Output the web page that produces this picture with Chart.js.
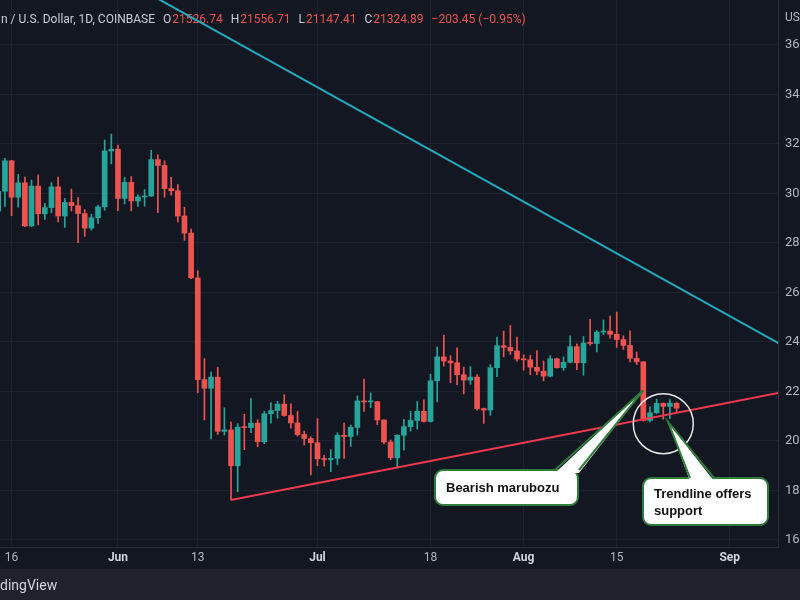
<!DOCTYPE html>
<html>
<head>
<meta charset="utf-8">
<script src="https://cdn.jsdelivr.net/npm/chart.js@4.4.1/dist/chart.umd.min.js"></script>
<style>
  html, body { margin: 0; padding: 0; background: #131722; }
  #wrap { width: 800px; height: 600px; }
</style>
</head>
<body>
<div id="wrap"><canvas id="btcChart" width="800" height="600"></canvas></div>
<script>
// BTC / USD daily candles, Coinbase, 14 May - 24 Aug 2022
const dates = [
  "2022-05-14","2022-05-15","2022-05-16","2022-05-17","2022-05-18","2022-05-19","2022-05-20","2022-05-21","2022-05-22",
  "2022-05-23","2022-05-24","2022-05-25","2022-05-26","2022-05-27","2022-05-28","2022-05-29","2022-05-30","2022-05-31",
  "2022-06-01","2022-06-02","2022-06-03","2022-06-04","2022-06-05","2022-06-06","2022-06-07","2022-06-08","2022-06-09","2022-06-10",
  "2022-06-11","2022-06-12","2022-06-13","2022-06-14","2022-06-15","2022-06-16","2022-06-17","2022-06-18","2022-06-19","2022-06-20",
  "2022-06-21","2022-06-22","2022-06-23","2022-06-24","2022-06-25","2022-06-26","2022-06-27","2022-06-28","2022-06-29","2022-06-30",
  "2022-07-01","2022-07-02","2022-07-03","2022-07-04","2022-07-05","2022-07-06","2022-07-07","2022-07-08","2022-07-09","2022-07-10",
  "2022-07-11","2022-07-12","2022-07-13","2022-07-14","2022-07-15","2022-07-16","2022-07-17","2022-07-18","2022-07-19","2022-07-20",
  "2022-07-21","2022-07-22","2022-07-23","2022-07-24","2022-07-25","2022-07-26","2022-07-27","2022-07-28","2022-07-29","2022-07-30",
  "2022-07-31",
  "2022-08-01","2022-08-02","2022-08-03","2022-08-04","2022-08-05","2022-08-06","2022-08-07","2022-08-08","2022-08-09","2022-08-10",
  "2022-08-11","2022-08-12","2022-08-13","2022-08-14","2022-08-15","2022-08-16","2022-08-17","2022-08-18","2022-08-19","2022-08-20",
  "2022-08-21","2022-08-22","2022-08-23","2022-08-24"
];
const open = [
  29290, 30090, 31320, 29850, 30430, 28690, 30300, 29180, 29430, 30270, 29090, 29640, 29510, 29190, 28600, 29020, 29460, 31720,
  31790, 29800, 30450, 29700, 29860, 29900, 31370, 31130, 30200, 30110, 29090, 28400, 26590, 22480, 22130, 22580, 20390,
  20450, 19000, 20560, 20540, 20720, 19970, 21100, 21230, 21490, 21030, 20730, 20260, 20100,
  19930, 19280, 19250, 19300, 20230, 20180, 20550, 21620, 21580, 21590, 20850, 19960, 19320, 20230, 20580, 20830,
  21200, 20790, 22430, 23400, 23230, 23160, 22680, 22460, 22580, 21310, 21250, 22960, 23850, 23780, 23640,
  23310, 23280, 22980, 22820, 22620, 23320, 22960, 23180, 23810, 23160, 23960, 23940, 24400, 24440, 24310, 24100,
  23860, 23340, 23200, 20830, 21140, 21520, 21400, 21526.74
];
const high = [
  30330, 31420, 31340, 30770, 30660, 30540, 30750, 29600, 30440, 30660, 29800, 30180, 29830, 29350, 29160, 29530, 32160, 32400,
  31960, 30650, 30680, 29950, 30160, 31750, 31560, 31320, 30650, 30360, 29440, 28560, 26880, 23330, 22780, 22980, 21340,
  20760, 20700, 21080, 21710, 20860, 21200, 21550, 21600, 21870, 21500, 21190, 20400, 20170,
  20900, 19430, 19650, 20330, 20720, 20650, 21820, 22500, 21940, 21600, 20860, 20040, 20260, 20880, 21200, 21600,
  21660, 22700, 23800, 24280, 23450, 23760, 22990, 23010, 22680, 21330, 23090, 24200, 24440, 24670, 24200,
  23480, 23460, 23650, 23230, 23450, 23350, 23400, 24250, 23930, 24220, 24920, 24460, 24890, 25050, 25210, 24250,
  24450, 23600, 23200, 21380, 21690, 21540, 21670, 21556.71
];
const low = [
  28620, 29480, 29100, 29450, 28660, 28670, 28730, 28950, 29220, 28850, 28630, 29290, 28010, 28270, 28520, 28790, 29320, 31200,
  29310, 29580, 29300, 29480, 29490, 29880, 29230, 29850, 29930, 28850, 28110, 26560, 21950, 20850, 20080, 20260, 20240,
  17620, 17950, 19650, 20340, 19770, 19890, 20720, 20920, 21000, 20520, 20200, 19840, 18630,
  19000, 18980, 18760, 19050, 19300, 19780, 20240, 21200, 21350, 20660, 19880, 19240, 18910, 19630, 20400, 20480,
  20760, 20760, 21580, 23020, 22350, 22280, 21900, 22290, 21250, 20710, 21040, 22600, 23400, 23500, 23230,
  22860, 22680, 22680, 22430, 22590, 22940, 22850, 23150, 22880, 22660, 23870, 23600, 24300, 24150, 23780, 23700,
  23200, 23090, 20800, 20770, 21110, 20880, 20900, 21147.41
];
const close = [
  30090, 31320, 29850, 30430, 28690, 30300, 29180, 29430, 30270, 29090, 29640, 29510, 29190, 28600, 29020, 29460, 31720, 31790,
  29800, 30450, 29700, 29860, 29900, 31370, 31130, 30200, 30110, 29090, 28400, 26590, 22480, 22130, 22580, 20390, 20450,
  19000, 20560, 20540, 20720, 19970, 21100, 21230, 21490, 21030, 20730, 20260, 20100, 19930,
  19280, 19250, 19300, 20230, 20180, 20550, 21620, 21580, 21590, 20850, 19960, 19320, 20230, 20580, 20830, 21200,
  20790, 22430, 23400, 23230, 23160, 22680, 22460, 22580, 21310, 21250, 22960, 23850, 23780, 23640, 23310,
  23280, 22980, 22820, 22620, 23320, 22960, 23180, 23810, 23160, 23960, 23940, 24400, 24440, 24310, 24100, 23860,
  23340, 23200, 20830, 21140, 21520, 21400, 21530, 21324.89
];

// axis ticks
const xTickDates = ["2022-05-16", "2022-06-01", "2022-06-13", "2022-07-01", "2022-07-18", "2022-08-01", "2022-08-15", "2022-09-01"];
const xTickLabels = ["16", "Jun", "13", "Jul", "18", "Aug", "15", "Sep"];
const yTicks = [16000, 18000, 20000, 22000, 24000, 26000, 28000, 30000, 32000, 34000, 36000];

// trend lines (two anchor points each, running past the view)
const resistanceDates = ["2022-06-07", "2022-09-10"];
const resistancePrices = [37870, 23700];
const supportDates = ["2022-06-18", "2022-09-10"];
const supportPrices = [17620, 22030];

const UP = "#26a69a";
const DOWN = "#ef5350";
const GRID = "#1e2230";
const AXIS_TEXT = "#b2b5be";

// days since 1 Jun 2022
const dayOf = (s) => (Date.parse(s) - Date.parse("2022-06-01T00:00:00Z")) / 86400000;

const candleColors = close.map((c, i) => (c >= open[i] ? UP : DOWN));
const wickData = dates.map((d, i) => ({ x: dayOf(d), y: [low[i], high[i]] }));
const bodyData = dates.map((d, i) => ({ x: dayOf(d), y: [Math.min(open[i], close[i]), Math.max(open[i], close[i])] }));

// 배경, 워터마크, 상단 범례
const backdrop = {
    id: "backdrop",
    beforeDraw(chart) {
        const { ctx } = chart;
        ctx.save();
        ctx.fillStyle = "#131722";
        ctx.fillRect(0, 0, 800, 600);
        ctx.fillStyle = "#1f222a";
        ctx.fillRect(0, 569, 800, 31);
        ctx.fillStyle = "#d1d4dc";
        ctx.font = "14px Roboto, sans-serif";
        ctx.textBaseline = "middle";
        ctx.fillText("dingView", 0, 586);
        ctx.restore();
    },
    beforeDatasetsDraw(chart) {
        const { ctx } = chart;
        ctx.save();
        ctx.font = "12px Roboto, sans-serif";
        ctx.textBaseline = "middle";
        const gray = "#c9ccd4";
        const parts = [
            ["n / U.S. Dollar, 1D, COINBASE", gray, 8],
            ["O", gray, 1], ["21526.74", DOWN, 8],
            ["H", gray, 1], ["21556.71", DOWN, 8],
            ["L", gray, 1], ["21147.41", DOWN, 8],
            ["C", gray, 1], ["21324.89", DOWN, 8],
            ["\u2212203.45 (\u22120.95%)", DOWN, 0],
        ];
        let x = 1;
        parts.forEach(([t, c, gap]) => {
            ctx.fillStyle = c;
            ctx.fillText(t, x, 20);
            x += ctx.measureText(t).width + gap;
        });
        ctx.fillStyle = AXIS_TEXT;
        ctx.fillText("US", 785, 18);
        ctx.restore();
    },
};

// 말풍선 + 원
const notes = {
    id: "notes",
    afterDraw(chart) {
        const { ctx } = chart;
        const xs = chart.scales.x;
        const ys = chart.scales.y;
        const px = (d) => xs.getPixelForValue(dayOf(d));
        const py = (p) => ys.getPixelForValue(p);

        ctx.save();
        ctx.strokeStyle = "#e8e8e8";
        ctx.lineWidth = 1.5;
        ctx.beginPath();
        ctx.arc(px("2022-08-22T00:00:00Z"), py(20700), 30, 0, Math.PI * 2);
        ctx.stroke();

        const callouts = [
            { x: 435, y: 470, w: 143, h: 35, base: [555, 579], tip: [px("2022-08-19T00:00:00Z"), py(22050)], lines: ["Bearish marubozu"], ty: [488] },
            { x: 643, y: 478, w: 125, h: 47, base: [690, 714], tip: [px("2022-08-22T17:00:00Z"), py(20780)], lines: ["Trendline offers", "support"], ty: [494, 511] },
        ];
        callouts.forEach((c) => {
            ctx.lineWidth = 2;
            ctx.strokeStyle = "#2f7d3a";
            ctx.fillStyle = "#ffffff";
            roundRect(ctx, c.x, c.y, c.w, c.h, 8);
            ctx.fill();
            ctx.stroke();
            ctx.beginPath();
            ctx.moveTo(c.base[0], c.y + 3);
            ctx.lineTo(c.tip[0], c.tip[1]);
            ctx.lineTo(c.base[1], c.y + 3);
            ctx.closePath();
            ctx.fill();
            ctx.beginPath();
            ctx.moveTo(c.base[0], c.y);
            ctx.lineTo(c.tip[0], c.tip[1]);
            ctx.lineTo(c.base[1], c.y);
            ctx.stroke();
            ctx.fillStyle = "#111111";
            ctx.font = "bold 13px 'Liberation Sans', Arial, sans-serif";
            ctx.textBaseline = "middle";
            c.lines.forEach((t, i) => ctx.fillText(t, c.x + 11, c.ty[i]));
        });
        ctx.restore();
    },
};

function roundRect(ctx, x, y, w, h, r) {
    ctx.beginPath();
    ctx.moveTo(x + r, y);
    ctx.lineTo(x + w - r, y);
    ctx.arcTo(x + w, y, x + w, y + r, r);
    ctx.lineTo(x + w, y + h - r);
    ctx.arcTo(x + w, y + h, x + w - r, y + h, r);
    ctx.lineTo(x + r, y + h);
    ctx.arcTo(x, y + h, x, y + h - r, r);
    ctx.lineTo(x, y + r);
    ctx.arcTo(x, y, x + r, y, r);
    ctx.closePath();
}

const ctxBtc = document.getElementById("btcChart").getContext("2d");

const btcChart = new Chart(ctxBtc, {
    type: "bar",
    data: {
        datasets: [
            {
                label: "wick",
                data: wickData,
                backgroundColor: candleColors,
                barThickness: 1,
                grouped: false,
                order: 3,
            },
            {
                label: "body",
                data: bodyData,
                backgroundColor: candleColors,
                barThickness: 5,
                minBarLength: 1,
                grouped: false,
                order: 2,
            },
            {
                type: "line",
                label: "resistance",
                data: resistanceDates.map((d, i) => ({ x: dayOf(d), y: resistancePrices[i] })),
                borderColor: "#22aabf",
                borderWidth: 2,
                pointRadius: 0,
                order: 1,
            },
            {
                type: "line",
                label: "support",
                data: supportDates.map((d, i) => ({ x: dayOf(d), y: supportPrices[i] })),
                borderColor: "#f0384f",
                borderWidth: 2,
                pointRadius: 0,
                order: 1,
            },
        ],
    },
    options: {
        responsive: false,
        animation: false,
        layout: {
            padding: { top: 0, left: 0, right: 0, bottom: 31 },
        },
        plugins: {
            legend: { display: false },
            tooltip: { enabled: false },
        },
        scales: {
            x: {
                type: "linear",
                min: -17.74,
                max: 99.25,
                offset: false,
                grid: { color: GRID, drawTicks: false, offset: false },
                border: { color: "#2a2e39" },
                ticks: {
                    autoSkip: false,
                    maxRotation: 0,
                    padding: 4,
                    color: (c) => (/^[A-Z]/.test(xTickLabels[c.index] || "") ? "#d1d4dc" : AXIS_TEXT),
                    font: (c) => ({
                        family: "Roboto, sans-serif",
                        size: 12,
                        weight: /^[A-Z]/.test(xTickLabels[c.index] || "") ? "bold" : "normal",
                    }),
                    callback: (value, index) => xTickLabels[index],
                },
                afterBuildTicks: (scale) => {
                    scale.ticks = xTickDates.map((d) => ({ value: dayOf(d) }));
                },
                afterFit: (scale) => {
                    scale.height = 22;
                    scale.paddingLeft = 0;
                    scale.paddingRight = 0;
                },
            },
            y: {
                type: "linear",
                position: "right",
                min: 15717,
                max: 37818,
                grid: { color: GRID, drawTicks: false },
                border: { color: "#2a2e39" },
                ticks: {
                    padding: 7,
                    color: AXIS_TEXT,
                    font: { family: "Roboto, sans-serif", size: 13 },
                    callback: (value) => String(value / 1000),
                },
                afterBuildTicks: (scale) => {
                    scale.ticks = yTicks.map((v) => ({ value: v }));
                },
                afterFit: (scale) => {
                    scale.width = 22;
                    scale.paddingTop = 0;
                    scale.paddingBottom = 0;
                },
            },
        },
    },
    plugins: [backdrop, notes],
});
</script>
</body>
</html>
